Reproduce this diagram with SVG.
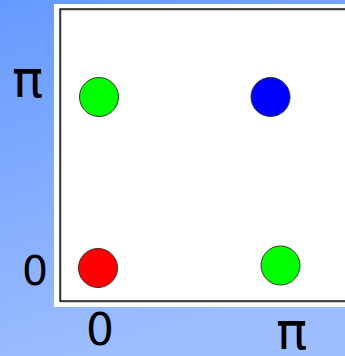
<svg xmlns="http://www.w3.org/2000/svg" width="345" height="356" viewBox="0 0 345 356">
<style>
.lbl{font-family:"DejaVu Sans",sans-serif;font-size:41px;fill:#000}
.pi{font-family:"DejaVu Sans",sans-serif;font-size:52px;fill:#000}
.dot{stroke:#333;stroke-width:1}
</style>
<defs>
<linearGradient id="bg" x1="0" y1="0" x2="0.3" y2="1">
<stop offset="0" stop-color="#669aff"/>
<stop offset="1" stop-color="#9dbefe"/>
</linearGradient>
</defs>
<rect x="0" y="0" width="345" height="356" fill="url(#bg)"/>
<rect x="54" y="4" width="295" height="303" fill="#fff"/>
<rect x="60.5" y="9.5" width="290" height="292" fill="none" stroke="#999" stroke-width="2"/>
<rect x="60" y="9" width="290" height="292" fill="none" stroke="#000" stroke-width="1.2"/>
<g id="n00"><circle class="dot" cx="98" cy="268" r="19.5" fill="#f00"/></g>
<g id="n0pi"><circle class="dot" cx="99" cy="97" r="19.5" fill="#0f0"/></g>
<g id="npi0"><circle class="dot" cx="280.5" cy="265.5" r="19.5" fill="#0f0"/></g>
<g id="npipi"><circle class="dot" cx="270.5" cy="97" r="19.5" fill="#00f"/></g>
<text class="pi" x="12" y="97">π</text>
<text class="lbl" x="22" y="285">0</text>
<text class="lbl" x="86" y="345" style="font-size:44px">0</text>
<text class="pi" x="276" y="349">π</text>
</svg>
